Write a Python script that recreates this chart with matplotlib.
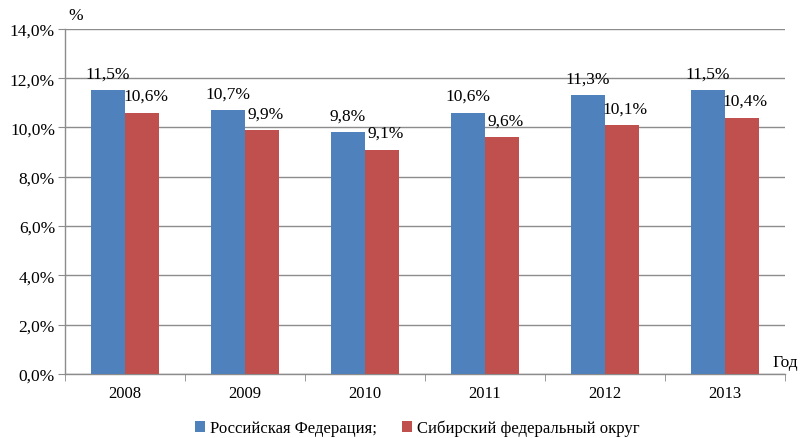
import matplotlib.pyplot as plt
import numpy as np

plt.rcParams['font.family'] = ['Liberation Serif', 'DejaVu Serif']

years = ['2008', '2009', '2010', '2011', '2012', '2013']
rf = [11.5, 10.7, 9.8, 10.6, 11.3, 11.5]
sfo = [10.6, 9.9, 9.1, 9.6, 10.1, 10.4]
rf_name = 'Российская Федерация;'
sfo_name = 'Сибирский федеральный округ'

blue = '#4f81bd'
red = '#c0504d'
grey = '#8c8c8c'

fig = plt.figure(figsize=(8, 4.39), dpi=100)
ax = fig.add_axes([0.081, 0.146, 0.9, 0.786])

x = np.arange(len(years))
w = 0.285
ax.bar(x - w / 2, rf, w, color=blue, label=rf_name, zorder=3)
ax.bar(x + w / 2, sfo, w, color=red, label=sfo_name, zorder=3)

# value labels above the bars
for xi, v in zip(x, rf):
    ax.text(xi - w / 2, v + 0.35, f'{v:.1f}%'.replace('.', ','), ha='center', va='bottom', fontsize=12.5)
for xi, v in zip(x, sfo):
    ax.text(xi + w / 2 + 0.03, v + 0.35, f'{v:.1f}%'.replace('.', ','), ha='center', va='bottom', fontsize=12.5)

ax.set_xlim(-0.5, len(years) - 0.5)
ax.set_ylim(0, 14)
ax.set_yticks(np.arange(0, 14.1, 2))
ax.set_yticklabels([f'{t:.1f}%'.replace('.', ',') for t in np.arange(0, 14.1, 2)], fontsize=12.5)
ax.set_xticks(x)
ax.set_xticklabels(years, fontsize=12)
ax.set_xticks(np.arange(-0.5, len(years)), minor=True)
ax.tick_params(axis='x', which='major', length=0, pad=8)
ax.tick_params(axis='x', which='minor', length=5, color=grey)
ax.tick_params(axis='y', length=5, color=grey, pad=2)

ax.grid(axis='y', color=grey, linewidth=1, zorder=0)
for s in ['top', 'right']:
    ax.spines[s].set_visible(False)
for s in ['left', 'bottom']:
    ax.spines[s].set_color(grey)
    ax.spines[s].set_linewidth(1)

fig.text(0.085, 0.955, '%', fontsize=12.5)
fig.text(0.965, 0.165, 'Год', fontsize=12.5)

ax.legend(loc='upper center', bbox_to_anchor=(0.49, -0.09), ncol=2, frameon=False,
          fontsize=12, handlelength=0.6, handleheight=0.6, handletextpad=0.3, columnspacing=1.5)

fig.savefig('out.png', dpi=100)
